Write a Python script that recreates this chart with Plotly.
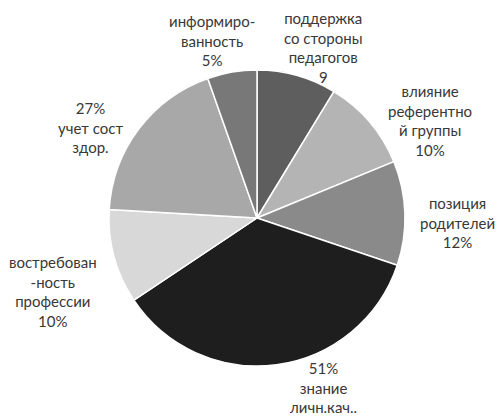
import plotly.graph_objects as go

# Slice names (as displayed) and slice sizes
labels = [
    "поддержка со стороны педагогов",
    "влияние референтной группы",
    "позиция родителей",
    "знание личн.кач..",
    "востребованность профессии",
    "учет сост здор.",
    "информированность",
]
values = [8.7, 10.1, 11.4, 35.5, 10.3, 18.7, 5.4]
label_texts = [
    "поддержка<br>со стороны<br>педагогов<br>9",
    "влияние<br>референтно<br>й группы<br>10%",
    "позиция<br>родителей<br>12%",
    "51%<br>знание<br>личн.кач..",
    "востребован<br>-ность<br>профессии<br>10%",
    "27%<br>учет сост<br>здор.",
    "информиро-<br>ванность<br>5%",
]
colors = ["#5e5e5e", "#b4b4b4", "#8a8a8a", "#1e1e1e", "#d8d8d8", "#a8a8a8", "#787878"]

W, H = 498, 416
# label centres in pixels (layout)
label_pos = [(323, 47), (430, 121), (457, 222), (323, 387), (53, 291), (90, 127), (212, 40)]

fig = go.Figure(go.Pie(
    labels=labels,
    values=values,
    sort=False,
    direction="clockwise",
    rotation=0,
    textinfo="none",
    hoverinfo="label+value",
    marker=dict(colors=colors, line=dict(color="white", width=1.5)),
    domain=dict(x=[(257 - 148) / W, (257 + 148) / W],
                y=[(H - 218 - 148) / H, (H - 218 + 148) / H]),
    showlegend=False,
))

for txt, (px, py) in zip(label_texts, label_pos):
    fig.add_annotation(
        x=px / W, y=1 - py / H, xref="paper", yref="paper",
        text=txt, showarrow=False, xanchor="center", yanchor="middle",
        align="center", font=dict(family="Lato", size=15, color="#383838"),
    )

fig.update_layout(
    width=W, height=H,
    margin=dict(l=0, r=0, t=0, b=0),
    paper_bgcolor="white", plot_bgcolor="white",
)
fig.write_html("out.html", config={"displayModeBar": False},
               post_script="document.body.style.margin='0';document.body.style.overflow='hidden';")
